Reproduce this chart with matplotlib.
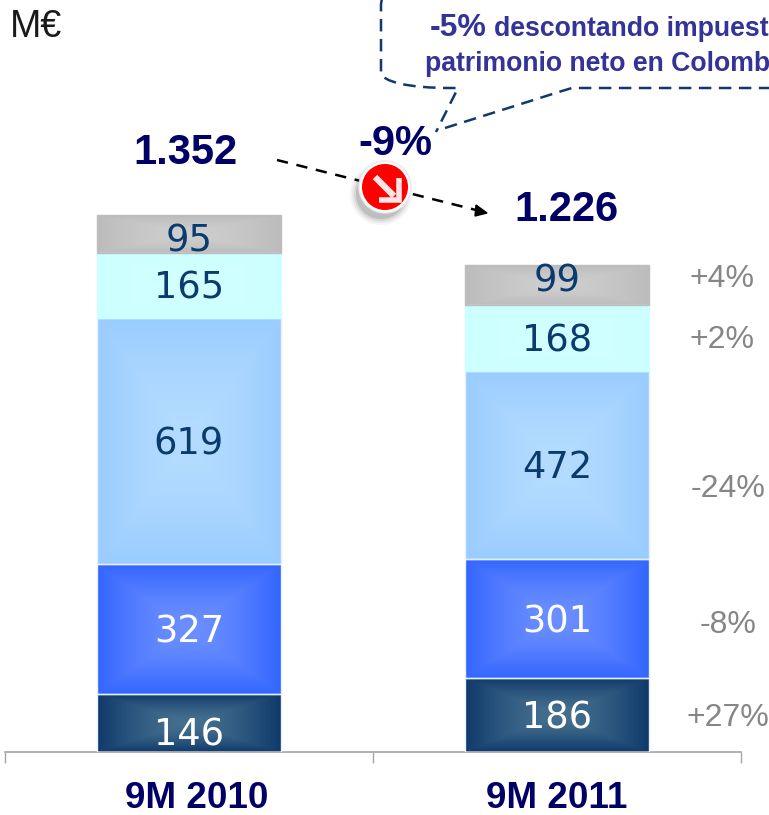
import numpy as np
import matplotlib
matplotlib.use('Agg')
import matplotlib.pyplot as plt
from matplotlib.colors import LinearSegmentedColormap
from matplotlib.patches import Circle, PathPatch, Polygon
from matplotlib.path import Path
from matplotlib.transforms import ScaledTranslation

# Datos
periodos = ['9M 2010', '9M 2011']
totales = ['1.352', '1.226']
seg_2010 = [146, 327, 619, 165, 95]
seg_2011 = [186, 301, 472, 168, 99]
variacion = ['+27%', '-8%', '-24%', '+2%', '+4%']

# Colores de cada tramo, de abajo arriba: (borde, centro)
colores = [('#0f3a6b', '#46708f'), ('#3366ff', '#6c8fff'), ('#99ccff', '#b5dcff'),
           ('#ccffff', '#d2ffff'), ('#bcbcbc', '#cecece')]
bordes = ['#e6f0ff', '#e6f0ff', '#e6f0ff', '#ccffff', '#bcbcbc']
color_txt = ['white', 'white', '#0a3a6e', '#0a3a6e', '#0a3a6e']
ajuste_2010 = [-6, 1, 1, 1, -2]
ajuste_2011 = [1, 0, 1, 1, 6]
ajuste_var_x = [57, 57, 57, 52.5, 52.5]
ajuste_var_y = [-2, -4.5, -17.5, -1.5, 4.5]
NAVY = '#000066'
SANS = 'Liberation Sans'

fig = plt.figure(figsize=(7.69, 8.15), dpi=100)
# eje: x de 5 a 741 px, y=0 en 752 px
ax = fig.add_axes([5 / 769, (815 - 752) / 815, 736 / 769, 752 / 815])
ax.set_xlim(-0.5, 1.5)
ax.set_ylim(0, 752 / 0.397)

# Degradado rectangular
n = 120
u, v = np.meshgrid(np.linspace(-1, 1, n), np.linspace(-1, 1, n))
grad = 1 - np.maximum(np.abs(u), np.abs(v)) ** 1.5

for i, valores in enumerate([seg_2010, seg_2011]):
    base = 0
    ajustes = ajuste_2010 if i == 0 else ajuste_2011
    for j, val in enumerate(valores):
        cmap = LinearSegmentedColormap.from_list('g', colores[j])
        ax.imshow(grad, cmap=cmap, vmin=0, vmax=1, aspect='auto', zorder=2,
                  extent=(i - 0.25, i + 0.25, base, base + val), interpolation='bilinear')
        ax.bar(i, val, 0.5, bottom=base, facecolor='none', edgecolor=bordes[j], linewidth=1, zorder=3)
        ax.annotate(str(val), (i, base + val / 2), xytext=(0, ajustes[j]), textcoords='offset points',
                    ha='center', va='center_baseline', fontsize=26.5, color=color_txt[j], family='DejaVu Sans',
                    zorder=4)
        base += val

# variación a la derecha de la segunda barra
base = 0
for j, val in enumerate(seg_2011):
    ax.annotate(variacion[j], (1.25, base + val / 2), xytext=(ajuste_var_x[j], ajuste_var_y[j]),
                textcoords='offset points', ha='center', va='center', fontsize=23, color='#868686', family=SANS)
    base += val

ax.set_xlim(-0.5, 1.5)
ax.set_ylim(0, 752 / 0.397)
for lado in ['top', 'left', 'right']:
    ax.spines[lado].set_visible(False)
ax.spines['bottom'].set_color('#a6a6a6')
ax.spines['bottom'].set_linewidth(1.2)
ax.patch.set_alpha(0)
ax.set_yticks([])
ax.set_xticks([0, 1])
ax.set_xticklabels(periodos, fontsize=26.5, fontweight='bold', color=NAVY, family=SANS)
ax.tick_params(axis='x', which='major', length=0, pad=21)
# la primera etiqueta va algo desplazada a la derecha
etiqueta = ax.get_xticklabels()[0]
etiqueta.set_transform(etiqueta.get_transform() + ScaledTranslation(8 / 100, 0, fig.dpi_scale_trans))
ax.set_xticks([-0.5, 0.5, 1.5], minor=True)
ax.tick_params(axis='x', which='minor', length=8, color='#a6a6a6', width=1)

# Capa superior en píxeles para los rótulos y la llamada
top = fig.add_axes([0, 0, 1, 1], zorder=5)
top.set_xlim(0, 769)
top.set_ylim(815, 0)
top.axis('off')

top.text(10, 27, 'M€', fontsize=27, color='#1a1a1a', family=SANS, va='center')
top.text(185, 153, totales[0], fontsize=30, fontweight='bold', color=NAVY, family=SANS, ha='center', va='center')
top.text(566, 210, totales[1], fontsize=30, fontweight='bold', color=NAVY, family=SANS, ha='center', va='center')
top.text(395, 144, '-9%', fontsize=30, fontweight='bold', color=NAVY, family=SANS, ha='center', va='center')

top.text(430, 28, '-5%', fontsize=23, fontweight='bold', color='#333399', family=SANS, va='center')
top.text(494, 29, 'descontando impuest', fontsize=19.15, fontweight='bold', color='#333399', family=SANS, va='center')
top.text(425, 64, 'patrimonio neto en Colomb', fontsize=19.15, fontweight='bold', color='#333399', family=SANS, va='center')

# Llamada discontinua
verts = [(382, -2), (381, 4), (381, 72), (381, 82), (410, 88), (450, 88), (458, 88),
         (436, 132), (445, 128), (562, 91), (572, 88), (775, 88)]
codes = [Path.MOVETO, Path.LINETO, Path.LINETO, Path.CURVE4, Path.CURVE4, Path.CURVE4, Path.LINETO,
         Path.LINETO, Path.MOVETO, Path.LINETO, Path.LINETO, Path.LINETO]
top.add_patch(PathPatch(Path(verts, codes), fill=False, edgecolor='#0f3a6b', linewidth=1.8,
                        linestyle=(0, (5, 3))))

# Flecha discontinua
top.plot([277, 476], [160, 210], color='black', linewidth=1.8, linestyle=(0, (4.5, 3.5)))
top.add_patch(Polygon([(487, 213), (476, 205), (475, 216)], closed=True, color='black'))

# Icono rojo
for r, a in zip([31, 29, 27, 25], [0.06, 0.08, 0.12, 0.18]):
    top.add_patch(Circle((381, 194), r, color='#555555', alpha=a, linewidth=0, zorder=3))
top.add_patch(Circle((385, 187), 26, color='white', ec='#e8e8e8', linewidth=1, zorder=4))
top.add_patch(Circle((385, 187), 23, color='#ff0000', linewidth=0, zorder=5))
top.plot([375, 394], [177, 196], color='#ffe6e6', linewidth=4.5, zorder=6, solid_capstyle='butt')
top.plot([399, 399, 379], [178, 200, 200], color='#ffe6e6', linewidth=4, zorder=6,
         solid_joinstyle='miter', solid_capstyle='butt')

fig.savefig('out.png', dpi=100)
